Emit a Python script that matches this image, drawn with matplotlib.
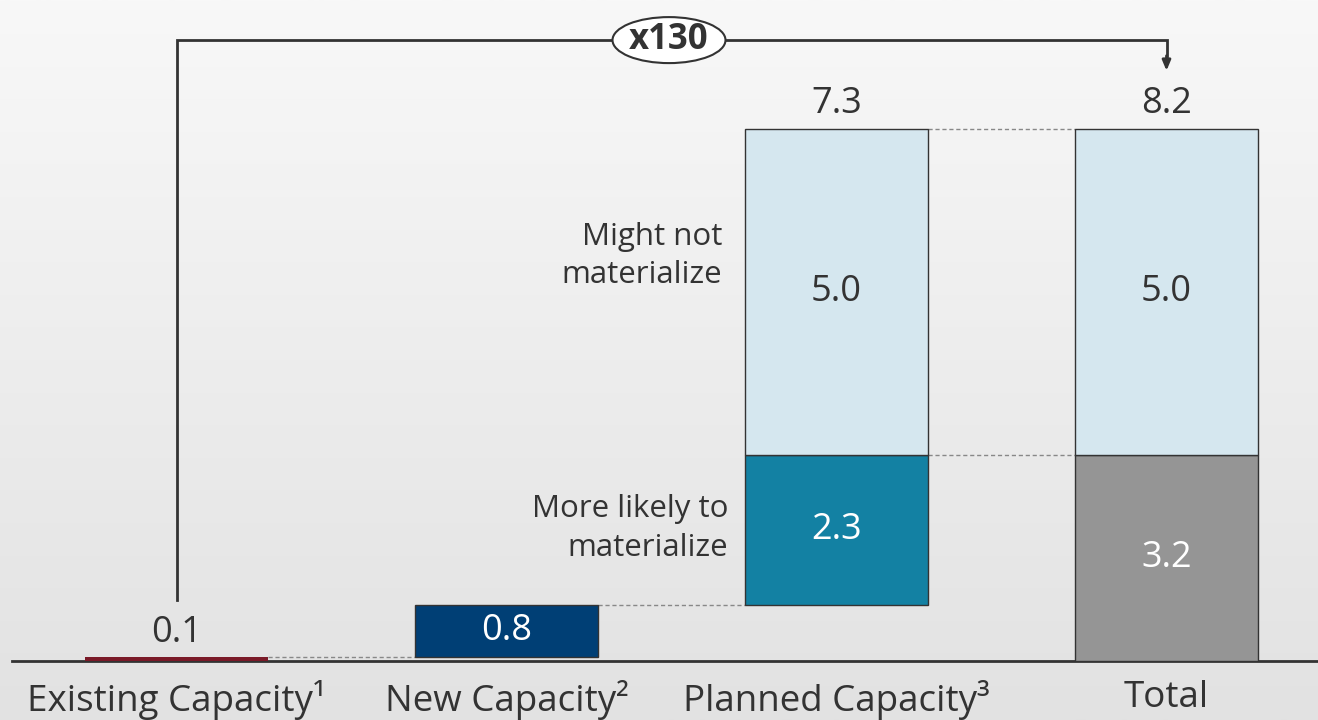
import matplotlib
matplotlib.use("Agg")
import matplotlib.pyplot as plt
import numpy as np
from matplotlib.patches import Ellipse
from matplotlib.colors import LinearSegmentedColormap

plt.rcParams['font.family'] = ['Open Sans', 'DejaVu Sans']

# ---- data ----
categories = ["Existing Capacity\u00b9", "New Capacity\u00b2", "Planned Capacity\u00b3", "Total"]
existing = 0.063
new_cap = 0.80
planned_likely = 2.30
planned_maybe = 5.00
multiple_label = "x130"
seg_labels = ["More likely to\nmaterialize", "Might not\nmaterialize"]

c_exist = "#7a1a28"
c_new = "#003f75"
c_likely = "#1381a3"
c_maybe = "#d5e7ef"
c_total = "#959595"
edge = "#333333"
txt = "#333333"

W, H = 1318, 720
fig = plt.figure(figsize=(W / 100, H / 100), dpi=100)

# gradient background
bg = fig.add_axes([0, 0, 1, 1])
grad = np.linspace(0, 1, 256).reshape(-1, 1)
cmap = LinearSegmentedColormap.from_list("bg", ["#f8f8f8", "#e2e2e2"])
bg.imshow(grad, aspect="auto", cmap=cmap, extent=[0, 1, 0, 1], origin="upper")
bg.axis("off")

base_px = 661
ax = fig.add_axes([12 / W, (H - base_px) / H, 1 - 12 / W, base_px / H])
ax.patch.set_alpha(0)
ppu = 65.2
ax.set_ylim(0, base_px / ppu)
x = np.arange(4)
ax.set_xlim(-164.5 / 330, 3 + 151.5 / 330)
bw = 183 / 330

likely_total = existing + new_cap + planned_likely
grand_total = likely_total + planned_maybe
planned_total = planned_likely + planned_maybe

# bars
ax.bar(x[0], existing, bw, color=c_exist, edgecolor="none", zorder=3)
ax.bar(x[1], new_cap, bw, bottom=existing, color=c_new, edgecolor=edge, lw=1, zorder=3)
ax.bar(x[2], planned_likely, bw, bottom=existing + new_cap, color=c_likely, edgecolor=edge, lw=1, zorder=3)
ax.bar(x[2], planned_maybe, bw, bottom=likely_total, color=c_maybe, edgecolor=edge, lw=1, zorder=3)
ax.bar(x[3], likely_total, bw, color=c_total, edgecolor=edge, lw=1, zorder=3)
ax.bar(x[3], planned_maybe, bw, bottom=likely_total, color=c_maybe, edgecolor=edge, lw=1, zorder=3)

# connectors
dash = dict(color="#888888", lw=1, ls=(0, (3, 2)), zorder=2)
h = bw / 2
ax.plot([x[0] + h, x[1] - h], [existing] * 2, **dash)
ax.plot([x[1] + h, x[2] - h], [existing + new_cap] * 2, **dash)
ax.plot([x[2] + h, x[3] - h], [grand_total] * 2, **dash)
ax.plot([x[2] + h, x[3] - h], [likely_total] * 2, **dash)

# value labels
fs_v = 26
ax.annotate(f"{existing:.1f}", (x[0], existing), xytext=(0, 4), textcoords="offset points",
            ha="center", va="bottom", fontsize=fs_v, color=txt)
ax.text(x[1], existing + new_cap / 2, f"{new_cap:.1f}", ha="center", va="center", fontsize=fs_v, color="white", zorder=4)
ax.text(x[2], existing + new_cap + planned_likely / 2, f"{planned_likely:.1f}", ha="center", va="center",
        fontsize=fs_v, color="white", zorder=4)
ax.text(x[2], likely_total + planned_maybe / 2, f"{planned_maybe:.1f}", ha="center", va="center",
        fontsize=fs_v, color=txt, zorder=4)
ax.text(x[3], likely_total / 2, f"{likely_total:.1f}", ha="center", va="center", fontsize=fs_v, color="white", zorder=4)
ax.text(x[3], likely_total + planned_maybe / 2, f"{planned_maybe:.1f}", ha="center", va="center",
        fontsize=fs_v, color=txt, zorder=4)
ax.annotate(f"{planned_total:.1f}", (x[2], grand_total), xytext=(0, 5), textcoords="offset points",
            ha="center", va="bottom", fontsize=fs_v, color=txt)
ax.annotate(f"{grand_total:.1f}", (x[3], grand_total), xytext=(0, 5), textcoords="offset points",
            ha="center", va="bottom", fontsize=fs_v, color=txt)

# segment side labels
fs_s = 22.5
ax.text(x[2] - h - 0.05, existing + new_cap + planned_likely / 2 + 0.02, seg_labels[0], ha="right", va="center",
        fontsize=fs_s, color=txt, linespacing=1.38)
ax.text(x[2] - h - 0.07, likely_total + planned_maybe * 0.61, seg_labels[1], ha="right", va="center",
        fontsize=fs_s, color=txt, linespacing=1.38)

# bracket
yb = grand_total + 1.36
ax.plot([x[0], x[0], x[3], x[3]], [existing + 0.88, yb, yb, yb - 0.25], color=txt, lw=2, zorder=5,
        solid_joinstyle="miter")
ax.annotate("", xy=(x[3], yb - 0.47), xytext=(x[3], yb - 0.24),
            arrowprops=dict(arrowstyle="-|>,head_length=0.6,head_width=0.25", color=txt, lw=2, shrinkA=0, shrinkB=0),
            zorder=5)
xm = (669 - 176.5) / 330
ell = Ellipse((xm, yb), 113 / 330, 46 / ppu, facecolor="white", edgecolor=txt, lw=1.5, zorder=6)
ax.add_patch(ell)
ax.text(xm, yb, multiple_label, ha="center", va="center", fontsize=25, fontweight="bold", color=txt, zorder=7)

# axes styling
for s in ["top", "right", "left"]:
    ax.spines[s].set_visible(False)
ax.spines["bottom"].set_color(txt)
ax.spines["bottom"].set_linewidth(2)
ax.set_yticks([])
ax.set_xticks(x)
ax.set_xticklabels(categories, fontsize=26.5, color=txt)
ax.tick_params(axis="x", length=0, pad=14)

fig.savefig("out.png", dpi=100)
